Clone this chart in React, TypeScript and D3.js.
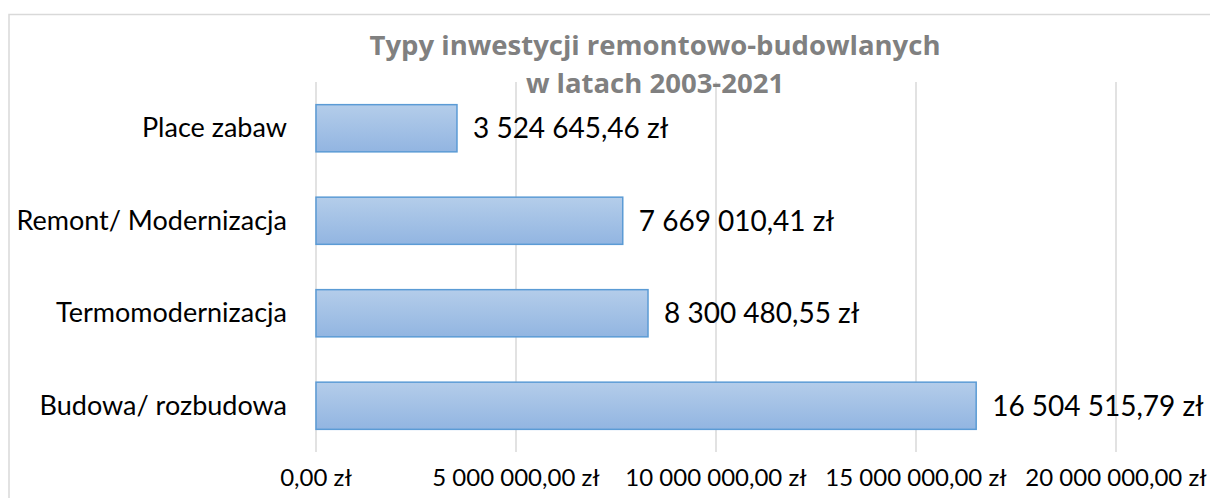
import { useEffect, useRef } from 'react'
import * as d3 from 'd3'

const categories = ['Place zabaw', 'Remont/ Modernizacja', 'Termomodernizacja', 'Budowa/ rozbudowa']
const values = [3524645.46, 7669010.41, 8300480.55, 16504515.79]
const ticks = [0, 5000000, 10000000, 15000000, 20000000]
const titleLines = ['Typy inwestycji remontowo-budowlanych', 'w latach 2003-2021']

const fmtZl = (v: number) => {
  const [int, dec] = v.toFixed(2).split('.')
  return int.replace(/\B(?=(\d{3})+(?!\d))/g, ' ') + ',' + dec + ' zł'
}

export default function App() {
  const svgRef = useRef<SVGSVGElement>(null)

  useEffect(() => {
    if (!svgRef.current) return
    const svg = d3.select(svgRef.current)
    svg.selectAll('*').remove()

    const font = 'Lato, Carlito, Calibri, sans-serif'

    const defs = svg.append('defs')
    const grad = defs.append('linearGradient')
      .attr('id', 'barGrad')
      .attr('x1', 0).attr('y1', 0).attr('x2', 0).attr('y2', 1)
    grad.append('stop').attr('offset', '0%').attr('stop-color', '#b4cdea')
    grad.append('stop').attr('offset', '100%').attr('stop-color', '#92b5e1')

    // chart border
    svg.append('rect')
      .attr('x', 9).attr('y', 14.5)
      .attr('width', 1300).attr('height', 600)
      .attr('fill', '#fff')
      .attr('stroke', '#d9d9d9')
      .attr('stroke-width', 1.5)

    const x = d3.scaleLinear().domain([0, 20000000]).range([316, 1116])
    const y = d3.scaleBand<string>().domain(categories).range([82, 452]).paddingInner(0.49).paddingOuter(0.245)

    // gridlines
    svg.append('g')
      .selectAll('line')
      .data(ticks)
      .join('line')
      .attr('x1', d => x(d)).attr('x2', d => x(d))
      .attr('y1', 82).attr('y2', 452)
      .attr('stroke', '#d9d9d9')
      .attr('stroke-width', 1.5)

    // title
    svg.append('text')
      .attr('text-anchor', 'middle')
      .style('font-family', '"Open Sans", sans-serif')
      .style('font-size', '27.5px')
      .style('font-weight', 'bold')
      .style('fill', '#808080')
      .selectAll('tspan')
      .data(titleLines)
      .join('tspan')
      .attr('x', 655)
      .attr('y', (_, i) => 55 + i * 38)
      .text(d => d)

    // bars
    svg.append('g')
      .selectAll('rect')
      .data(values)
      .join('rect')
      .attr('x', x(0))
      .attr('y', (_, i) => y(categories[i])!)
      .attr('width', d => x(d) - x(0))
      .attr('height', y.bandwidth())
      .attr('fill', 'url(#barGrad)')
      .attr('stroke', '#5b9bd5')
      .attr('stroke-width', 1.5)

    // value labels
    svg.append('g')
      .selectAll('text')
      .data(values)
      .join('text')
      .attr('x', d => x(d) + 16)
      .attr('y', (_, i) => y(categories[i])! + y.bandwidth() / 2)
      .attr('dy', '0.36em')
      .style('font-family', font)
      .style('font-size', '28px')
      .style('fill', '#000')
      .text(d => fmtZl(d))

    // category labels
    svg.append('g')
      .selectAll('text')
      .data(categories)
      .join('text')
      .attr('x', 287)
      .attr('y', d => y(d)! + y.bandwidth() / 2)
      .attr('dy', '0.33em')
      .attr('text-anchor', 'end')
      .style('font-family', font)
      .style('font-size', '27px')
      .style('fill', '#000')
      .text(d => d)

    // x tick labels
    svg.append('g')
      .selectAll('text')
      .data(ticks)
      .join('text')
      .attr('x', d => x(d))
      .attr('y', 486)
      .attr('text-anchor', 'middle')
      .style('font-family', font)
      .style('font-size', '24px')
      .style('fill', '#000')
      .text(d => fmtZl(d))
  }, [])

  return (
    <svg
      ref={svgRef}
      width={1210}
      height={498}
      style={{ position: 'absolute', left: 0, top: 0, background: '#fff' }}
    />
  )
}
